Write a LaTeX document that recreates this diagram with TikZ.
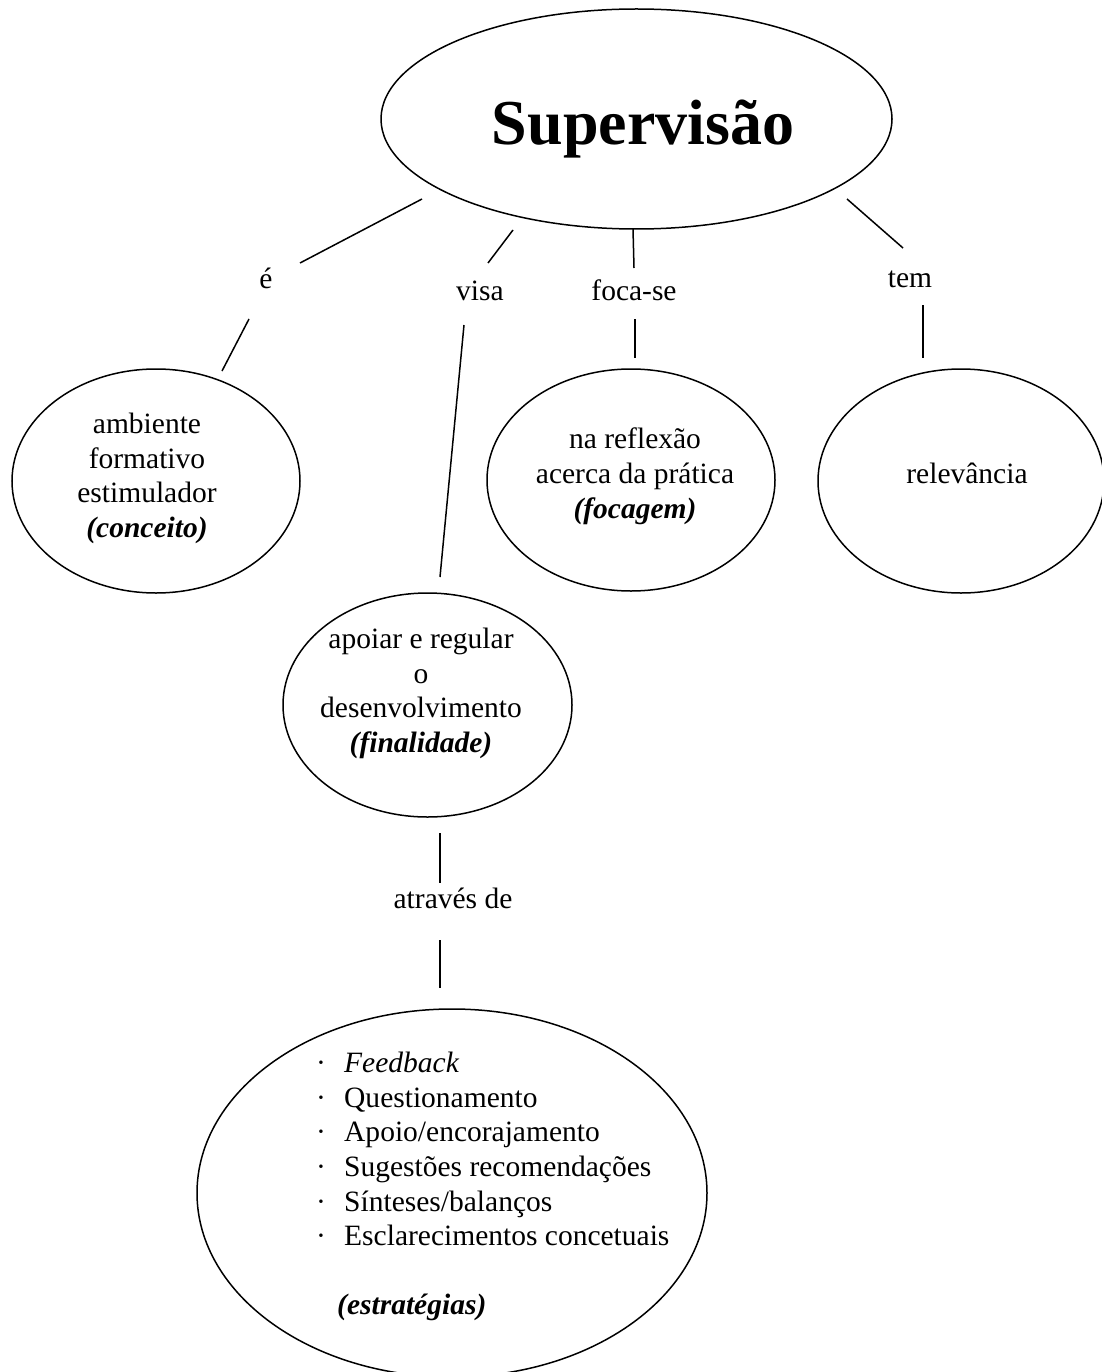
\documentclass[tikz,border=0pt]{standalone}
\usepackage{fontspec}
\setmainfont{Liberation Serif}
\usetikzlibrary{shapes.geometric}
\begin{document}
\begin{tikzpicture}[x=1pt,y=-1pt,
  bubble/.style={draw, line width=1.5pt, ellipse, inner sep=0pt},
  conn/.style={line width=1.5pt},
  body/.style={font=\fontsize{29.5}{34.6}\selectfont, inner sep=0pt},
  lbl/.style={body, anchor=base},
  txt/.style={body, align=center, anchor=north}]
\fill[white] (0,0) rectangle (1101,1372);
\useasboundingbox (0,0) rectangle (1101,1372);

% ellipses
\node[bubble, minimum width=511pt, minimum height=220pt] (sup) at (636.5,119) {};
\node[bubble, minimum width=288pt, minimum height=224pt] (conc) at (156,481) {};
\node[bubble, minimum width=288pt, minimum height=222pt] (foc) at (631,480) {};
\node[bubble, minimum width=286pt, minimum height=224pt] (rel) at (961,481) {};
\node[bubble, minimum width=289pt, minimum height=224pt] (fin) at (427.5,705) {};
\node[bubble, minimum width=510pt, minimum height=368pt] (est) at (452,1193) {};

% texts in ellipses
\node[font=\bfseries\fontsize{64}{70}\selectfont, inner sep=0pt, anchor=base] (supt) at (643,145) {Supervisão};
\node[txt] (conct) at (147,413) {ambiente\\formativo\\estimulador\\\textbf{\textit{(conceito)}}};
\node[txt] (foct) at (635,428) {na reflexão\\acerca da prática\\\textbf{\textit{(focagem)}}};
\node[lbl] (relt) at (967,483) {relevância};
\node[txt] (fint) at (421,628) {apoiar e regular\\o\\desenvolvimento\\\textbf{\textit{(finalidade)}}};
\node[body, align=left, anchor=north west] (estt) at (316,1052) {%
\makebox[28pt][l]{·}\textit{Feedback}\\
\makebox[28pt][l]{·}Questionamento\\
\makebox[28pt][l]{·}Apoio/encorajamento\\
\makebox[28pt][l]{·}Sugestões recomendações\\
\makebox[28pt][l]{·}Sínteses/balanços\\
\makebox[28pt][l]{·}Esclarecimentos concetuais\\[34.6pt]
\hspace*{21pt}\textbf{\textit{(estratégias)}}};

% link labels
\node[lbl] (e) at (266,288) {é};
\node[lbl] (visa) at (480,300) {visa};
\node[lbl] (focase) at (634,300) {foca-se};
\node[lbl] (tem) at (910,287) {tem};
\node[lbl] (atraves) at (453,908) {através de};

% connector end points
\coordinate (e1) at (422,199); \coordinate (e2) at (300,263);
\coordinate (e3) at (249,319); \coordinate (e4) at (222,371);
\coordinate (v1) at (513,230); \coordinate (v2) at (488,263);
\coordinate (v3) at (464,325); \coordinate (v4) at (440,577);
\coordinate (f1) at (633,229); \coordinate (f2) at (634,268);
\coordinate (f3) at (635,319); \coordinate (f4) at (635,358);
\coordinate (t1) at (847,199); \coordinate (t2) at (903,248);
\coordinate (t3) at (923,305); \coordinate (t4) at (923,358);
\coordinate (a1) at (440,833); \coordinate (a2) at (440,883);
\coordinate (a3) at (440,940); \coordinate (a4) at (440,988);

\draw[conn] (e1) -- (e2); \draw[conn] (e3) -- (e4);
\draw[conn] (v1) -- (v2); \draw[conn] (v3) -- (v4);
\draw[conn] (f1) -- (f2); \draw[conn] (f3) -- (f4);
\draw[conn] (t1) -- (t2); \draw[conn] (t3) -- (t4);
\draw[conn] (a1) -- (a2); \draw[conn] (a3) -- (a4);
\end{tikzpicture}
\end{document}
